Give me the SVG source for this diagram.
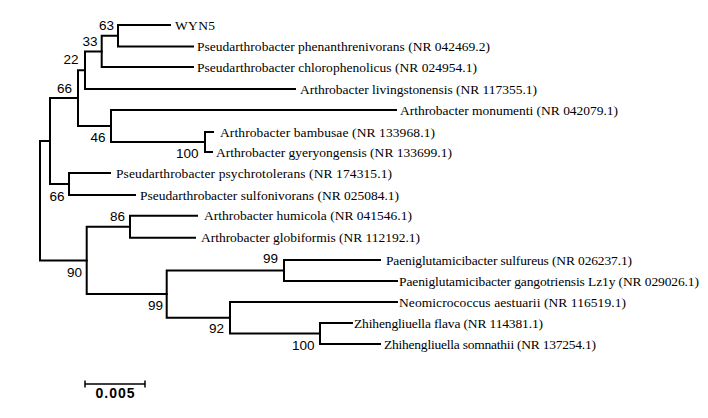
<svg xmlns="http://www.w3.org/2000/svg" width="708" height="418" viewBox="0 0 708 418">
<style>
.br{fill:none;stroke:#000;stroke-width:2;stroke-linecap:square;stroke-linejoin:miter}
.tx{font-family:"Liberation Serif","Times New Roman",serif;font-size:13.5px;fill:#000}
.bs{font-family:"Liberation Sans",Arial,sans-serif;font-size:13.5px;fill:#000;text-anchor:end}
.sc{font-family:"Liberation Sans",Arial,sans-serif;font-size:14px;font-weight:bold;fill:#000;text-anchor:middle}
</style>
<rect width="708" height="418" fill="#fff"/>
<g id="connectors">
<path class="br" d="M50,141 H40 V260.4 H86.7"/>
<path class="br" d="M78,98.1 H50 V184 H69"/>
<path class="br" d="M85,70.2 H78 V126 H111"/>
<path class="br" d="M101.7,51.4 H85 V89 H295"/>
<path class="br" d="M118,35.75 H101.7 V67 H193"/>
<path class="br" d="M170,25 H118 V46.5 H193"/>
<path class="br" d="M396,110 H111 V142 H205"/>
<path class="br" d="M213,132 H205 V152 H212"/>
<path class="br" d="M110,173 H69 V195 H135"/>
<path class="br" d="M130,226.7 H86.7 V294 H166.7"/>
<path class="br" d="M197,215.7 H130 V237.7 H195"/>
<path class="br" d="M284,270.5 H166.7 V317.7 H230"/>
<path class="br" d="M380,260 H284 V281 H397"/>
<path class="br" d="M397,302 H230 V333.5 H320"/>
<path class="br" d="M352,323 H320 V344 H380"/>
</g>
<g id="leaf-WYN5"><text class="tx" x="175" y="29.5" textLength="40">WYN5</text></g>
<g id="leaf-phenanthrenivorans"><text class="tx" x="197" y="51" textLength="293">Pseudarthrobacter phenanthrenivorans (NR 042469.2)</text></g>
<g id="leaf-chlorophenolicus"><text class="tx" x="197" y="71.5" textLength="280">Pseudarthrobacter chlorophenolicus (NR 024954.1)</text></g>
<g id="leaf-livingstonensis"><text class="tx" x="300" y="93.5" textLength="237">Arthrobacter livingstonensis (NR 117355.1)</text></g>
<g id="leaf-monumenti"><text class="tx" x="400" y="114.5" textLength="218">Arthrobacter monumenti (NR 042079.1)</text></g>
<g id="leaf-bambusae"><text class="tx" x="220" y="136.5" textLength="215">Arthrobacter bambusae (NR 133968.1)</text></g>
<g id="leaf-gyeryongensis"><text class="tx" x="216" y="156.5" textLength="236">Arthrobacter gyeryongensis (NR 133699.1)</text></g>
<g id="leaf-psychrotolerans"><text class="tx" x="116" y="177.5" textLength="276">Pseudarthrobacter psychrotolerans (NR 174315.1)</text></g>
<g id="leaf-sulfonivorans"><text class="tx" x="140" y="199.5" textLength="259">Pseudarthrobacter sulfonivorans (NR 025084.1)</text></g>
<g id="leaf-humicola"><text class="tx" x="204" y="220.2" textLength="208">Arthrobacter humicola (NR 041546.1)</text></g>
<g id="leaf-globiformis"><text class="tx" x="201" y="242.2" textLength="219">Arthrobacter globiformis (NR 112192.1)</text></g>
<g id="leaf-sulfureus"><text class="tx" x="386" y="264.5" textLength="246">Paeniglutamicibacter sulfureus (NR 026237.1)</text></g>
<g id="leaf-gangotriensis"><text class="tx" x="399" y="285.5" textLength="300">Paeniglutamicibacter gangotriensis Lz1y (NR 029026.1)</text></g>
<g id="leaf-aestuarii"><text class="tx" x="399" y="306.5" textLength="227">Neomicrococcus aestuarii (NR 116519.1)</text></g>
<g id="leaf-flava"><text class="tx" x="354" y="327.5" textLength="189">Zhihengliuella flava (NR 114381.1)</text></g>
<g id="leaf-somnathii"><text class="tx" x="384" y="348.5" textLength="212">Zhihengliuella somnathii (NR 137254.1)</text></g>
<g id="bootstrap">
<text class="bs" x="114" y="30">63</text>
<text class="bs" x="97.5" y="46">33</text>
<text class="bs" x="78.5" y="64">22</text>
<text class="bs" x="72" y="93">66</text>
<text class="bs" x="105.5" y="142">46</text>
<text class="bs" x="198.5" y="158">100</text>
<text class="bs" x="64.5" y="201">66</text>
<text class="bs" x="125" y="221">86</text>
<text class="bs" x="82" y="277">90</text>
<text class="bs" x="278" y="263">99</text>
<text class="bs" x="163" y="310">99</text>
<text class="bs" x="224" y="333">92</text>
<text class="bs" x="314.5" y="350">100</text>
</g>
<g id="scale-bar">
<path class="br" style="stroke-width:1.5;stroke-linecap:butt" d="M85,384 H145 M85,380.5 V387.5 M145,380.5 V387.5"/>
<text class="sc" x="115" y="398" textLength="39">0.005</text>
</g>
</svg>
